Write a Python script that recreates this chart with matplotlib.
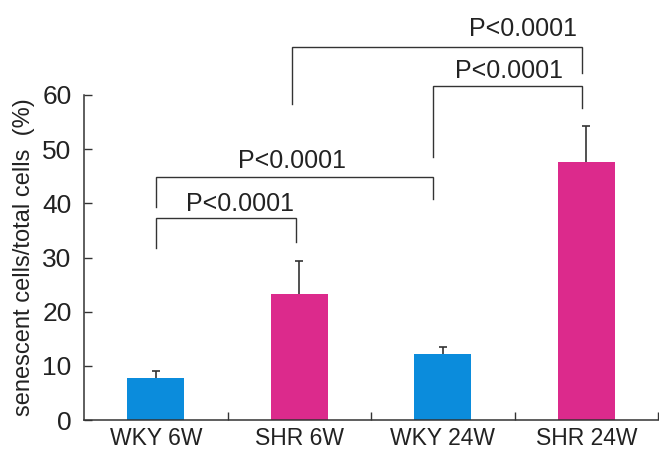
import matplotlib
matplotlib.use("Agg")
import matplotlib.pyplot as plt

categories = ["WKY 6W", "SHR 6W", "WKY 24W", "SHR 24W"]
means = [7.7, 23.3, 12.2, 47.6]
errors = [1.4, 6.1, 1.3, 6.7]
bar_colors = ["#0b8cdc", "#dc2a8c", "#0b8cdc", "#dc2a8c"]
p_labels = ["P<0.0001", "P<0.0001", "P<0.0001", "P<0.0001"]

plt.rcParams['font.family'] = ['Liberation Sans', 'DejaVu Sans']
line_col = "#333333"

fig = plt.figure(figsize=(6.59, 4.50), dpi=100)
ax = fig.add_axes([84/659, 1-420/450, (658-84)/659, 325/450])

x = list(range(len(categories)))
ax.bar(x, means, width=0.40, color=bar_colors, zorder=2)
ax.errorbar(x, means, yerr=errors, fmt='none',
            ecolor=line_col, elinewidth=1.2, capsize=3, capthick=1.2, zorder=1)

ax.set_xlim(-0.5, 3.5)
ax.set_ylim(0, 60)
ax.set_yticks(range(0, 61, 10))
ax.tick_params(axis='y', direction='in', length=6, width=1, color=line_col,
               labelsize=19, pad=9, labelcolor="#222222")
ax.set_xticks(x)
ax.set_xticklabels(categories)
ax.tick_params(axis='x', which='major', length=0, labelsize=16.5, pad=5, labelcolor="#222222")
ax.set_xticks([0.5, 1.5, 2.5, 3.5], minor=True)
ax.tick_params(axis='x', which='minor', direction='in', length=6, width=1, color=line_col)

for s in ['top', 'right']:
    ax.spines[s].set_visible(False)
for s in ['left', 'bottom']:
    ax.spines[s].set_color(line_col)
    ax.spines[s].set_linewidth(1.1)

ax.set_ylabel("senescent cells/total cells  (%)", fontsize=17, color="#222222", labelpad=5)

# brackets: (x_left, x_right, y_top, left_bottom, right_bottom)
brackets = [
    (0.0, 0.98, 37.3, 31.8, 32.9),
    (0.0, 1.93, 44.9, 39.3, 40.8),
    (1.93, 2.97, 61.7, 48.6, 57.6),
    (0.95, 2.97, 68.9, 58.3, 64.1),
]
label_pos = [(0.59, 38.6), (0.95, 46.5), (2.46, 63.2), (2.56, 70.8)]
for (xl, xr, yt, lb, rb), lab, (tx, ty) in zip(brackets, p_labels, label_pos):
    ax.plot([xl, xl, xr, xr], [lb, yt, yt, rb], color=line_col, lw=1.0,
            clip_on=False, solid_joinstyle='miter')
    ax.text(tx, ty, lab, ha='center', va='baseline', fontsize=18,
            color="#222222", clip_on=False)

fig.savefig("out.png", dpi=100, facecolor="white")
